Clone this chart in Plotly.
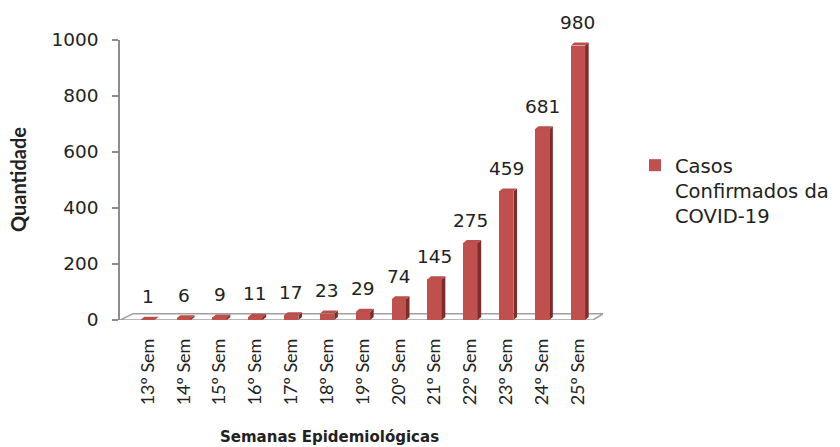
import plotly.graph_objects as go

# ---- data ----
categories = ["13º Sem", "14º Sem", "15º Sem", "16º Sem", "17º Sem", "18º Sem", "19º Sem",
              "20º Sem", "21º Sem", "22º Sem", "23º Sem", "24º Sem", "25º Sem"]
casos = [1, 6, 9, 11, 17, 23, 29, 74, 145, 275, 459, 681, 980]
y_ticks = [0, 200, 400, 600, 800, 1000]
series_name = "Casos<br>Confirmados da<br>COVID-19"
x_title = "Semanas Epidemiológicas"
y_title = "Quantidade"

# ---- style ----
W, H = 840, 447
L, R, T, B = 120, 237, 40, 127
FRONT = "#C0504D"
SIDE = "#7E2B29"
TOP = "#B9504C"
TXT = "#222222"
GRID = "#A0A0A0"
bar_w = 0.40
dx, dy = 0.10, 11.0       # depth offset (x in category units, y in value units)
xr = [-0.78, len(categories) - 1 + 0.70]

xs = list(range(len(categories)))
pw, ph = W - L - R, H - T - B


def px_to_paper(px, py):
    return (px - L) / pw, (H - B - py) / ph


fig = go.Figure()

# floor (3D base plane)
n = len(categories)
fig.add_shape(type="path",
              path=f"M {xr[0]},0 L {n - 1 + 0.42},0 L {xr[1]},{2*dy} L {xr[0] + 0.36},{2*dy} Z",
              xref="x", yref="y", line=dict(color=GRID, width=1.5), fillcolor="white", layer="below")

# front faces
fig.add_trace(go.Bar(x=xs, y=casos, width=bar_w, marker=dict(color=FRONT, line=dict(width=0)),
                     name=series_name, showlegend=True, hoverinfo="y"))

# side and top faces
sx, sy, tx, ty = [], [], [], []
for i, v in zip(xs, casos):
    r = i + bar_w / 2
    l = i - bar_w / 2
    sx += [r, r + dx, r + dx, r, r, None]
    sy += [0, dy, v + dy, v, 0, None]
    tx += [l, l + dx, r + dx, r, l, None]
    ty += [v, v + dy, v + dy, v, v, None]
fig.add_trace(go.Scatter(x=sx, y=sy, mode="lines", fill="toself", fillcolor=SIDE,
                         line=dict(width=0, color=SIDE), showlegend=False, hoverinfo="skip"))
fig.add_trace(go.Scatter(x=tx, y=ty, mode="lines", fill="toself", fillcolor=TOP,
                         line=dict(width=0, color=TOP), showlegend=False, hoverinfo="skip"))

# data labels
for i, v in zip(xs, casos):
    fig.add_annotation(x=i, y=v, text=str(v), showarrow=False, xref="x", yref="y",
                       yanchor="middle", yshift=23, xshift=0,
                       font=dict(family="DejaVu Sans", size=18.5, color=TXT))

# axis titles
ax, ay = px_to_paper(18, 180)
fig.add_annotation(x=ax, y=ay, xref="paper", yref="paper", text=f"<b>{y_title}</b>",
                   textangle=-90, showarrow=False, xanchor="center", yanchor="middle",
                   font=dict(family="Lato", size=20, color=TXT))
bx, by = px_to_paper(329, 437)
fig.add_annotation(x=bx, y=by, xref="paper", yref="paper", text=f"<b>{x_title}</b>",
                   showarrow=False, xanchor="center", yanchor="middle",
                   font=dict(family="DejaVu Sans", size=15, color=TXT))

lx, ly = px_to_paper(635, 146)
fig.update_layout(
    width=W, height=H,
    margin=dict(l=L, r=R, t=T, b=B, pad=0, autoexpand=False),
    paper_bgcolor="white", plot_bgcolor="white",
    bargap=0,
    xaxis=dict(range=xr, tickmode="array", tickvals=xs, ticktext=categories,
               tickangle=-90, showgrid=False, zeroline=False, showline=False,
               ticks="", ticklabelstandoff=14, automargin=False,
               tickfont=dict(family="Lato", size=18, color=TXT)),
    yaxis=dict(range=[0, 1000], tickmode="array", tickvals=y_ticks,
               showgrid=False, zeroline=False, showline=True, linecolor="#8C8C8C", linewidth=1.5,
               ticks="outside", ticklen=6, tickcolor="#8C8C8C", tickwidth=1.5,
               ticklabelstandoff=10, automargin=False,
               tickfont=dict(family="DejaVu Sans", size=18.5, color=TXT)),
    legend=dict(x=lx, y=ly, xanchor="left", yanchor="top", valign="top",
                font=dict(family="DejaVu Sans", size=19.5, color=TXT),
                bgcolor="rgba(0,0,0,0)", borderwidth=0, tracegroupgap=0),
    showlegend=True,
)

fig.write_html("out.html", config={"displayModeBar": False},
               post_script="document.body.style.margin='0';document.body.style.overflow='hidden';")
